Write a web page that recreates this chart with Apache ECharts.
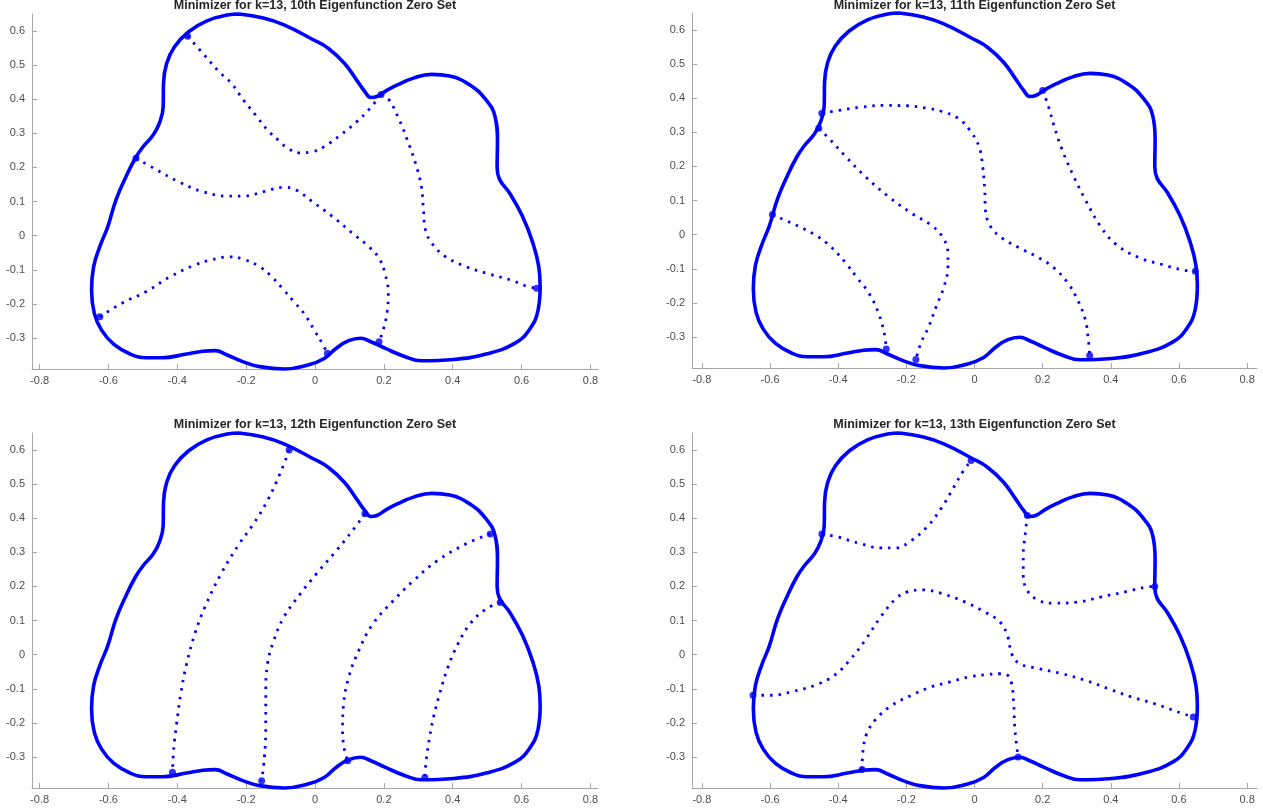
<!DOCTYPE html>
<html>
<head>
<meta charset="utf-8">
<script src="https://cdn.jsdelivr.net/npm/echarts@6/dist/echarts.min.js"></script>
<style>
  html, body { margin: 0; padding: 0; background: #fff; }
  #chart { width: 1263px; height: 811px; }
</style>
</head>
<body>
<div id="chart"></div>
<script>
const xTicks = [-0.8, -0.6, -0.4, -0.2, 0, 0.2, 0.4, 0.6, 0.8];
const yTicks = [-0.3, -0.2, -0.1, 0, 0.1, 0.2, 0.3, 0.4, 0.5, 0.6];
const titles = [
  'Minimizer for k=13, 10th Eigenfunction Zero Set',
  'Minimizer for k=13, 11th Eigenfunction Zero Set',
  'Minimizer for k=13, 12th Eigenfunction Zero Set',
  'Minimizer for k=13, 13th Eigenfunction Zero Set'
];

// domain boundary (same in all panels)
const boundary = [
  [-0.22, 0.65], [-0.15, 0.638], [-0.09, 0.618], [-0.008, 0.576], [0.039, 0.549], [0.086, 0.505], [0.121, 0.456],
  [0.145, 0.422], [0.162, 0.405], [0.18, 0.408], [0.205, 0.424], [0.239, 0.442], [0.286, 0.462], [0.339, 0.473],
  [0.391, 0.468], [0.45, 0.442], [0.497, 0.398], [0.523, 0.349], [0.53, 0.28], [0.529, 0.2],
  [0.536, 0.165], [0.565, 0.125], [0.603, 0.056], [0.633, -0.022], [0.65, -0.091], [0.654, -0.15],
  [0.648, -0.218], [0.623, -0.275], [0.58, -0.316], [0.497, -0.347], [0.403, -0.363], [0.309, -0.367],
  [0.262, -0.355], [0.203, -0.33], [0.162, -0.311], [0.133, -0.301], [0.098, -0.308], [0.062, -0.33],
  [0.027, -0.36], [-0.02, -0.379], [-0.09, -0.391], [-0.161, -0.384], [-0.208, -0.37], [-0.255, -0.35],
  [-0.29, -0.337], [-0.326, -0.339], [-0.373, -0.347], [-0.443, -0.358], [-0.49, -0.358], [-0.537, -0.347],
  [-0.584, -0.319], [-0.62, -0.277], [-0.641, -0.228], [-0.649, -0.159], [-0.643, -0.091], [-0.625, -0.032],
  [-0.602, 0.026], [-0.578, 0.105], [-0.549, 0.173], [-0.522, 0.227], [-0.5, 0.26], [-0.47, 0.295],
  [-0.452, 0.33], [-0.441, 0.378], [-0.44, 0.447], [-0.431, 0.505], [-0.408, 0.554], [-0.367, 0.598],
  [-0.314, 0.63], [-0.255, 0.647], [-0.22, 0.65]
];

// 10th eigenfunction nodal lines
const k10a = [[-0.37, 0.585], [-0.326, 0.535], [-0.279, 0.481], [-0.243, 0.447], [-0.208, 0.398], [-0.173, 0.354],
  [-0.138, 0.31], [-0.102, 0.276], [-0.079, 0.256], [-0.043, 0.243], [-0.008, 0.246], [0.027, 0.261],
  [0.074, 0.295], [0.121, 0.334], [0.156, 0.369], [0.192, 0.414]];
const k10b = [[0.192, 0.414], [0.215, 0.398], [0.245, 0.339], [0.268, 0.281], [0.292, 0.212], [0.309, 0.144],
  [0.315, 0.075], [0.321, 0.017], [0.339, -0.022], [0.38, -0.062], [0.439, -0.091], [0.497, -0.11],
  [0.568, -0.13], [0.615, -0.148], [0.644, -0.154]];
const k10c = [[-0.52, 0.227], [-0.467, 0.197], [-0.396, 0.158], [-0.326, 0.129], [-0.255, 0.116], [-0.208, 0.116],
  [-0.149, 0.129], [-0.091, 0.142], [-0.055, 0.134], [-0.008, 0.1], [0.051, 0.056], [0.109, 0.007],
  [0.156, -0.032], [0.186, -0.066], [0.203, -0.11], [0.213, -0.169], [0.209, -0.228], [0.198, -0.277], [0.186, -0.311]];
const k10d = [[-0.625, -0.238], [-0.561, -0.198], [-0.49, -0.164], [-0.42, -0.12], [-0.349, -0.086], [-0.302, -0.071],
  [-0.249, -0.062], [-0.208, -0.069], [-0.161, -0.091], [-0.126, -0.12], [-0.091, -0.159], [-0.061, -0.194],
  [-0.032, -0.228], [-0.002, -0.277], [0.021, -0.316], [0.036, -0.345]];
const k10nodes = [[-0.37, 0.585], [0.192, 0.414], [-0.52, 0.227], [0.644, -0.154], [-0.625, -0.238], [0.036, -0.345], [0.186, -0.311]];

// 11th
const k11a = [[-0.448, 0.356], [-0.4, 0.364], [-0.333, 0.374], [-0.265, 0.379], [-0.197, 0.378], [-0.14, 0.371],
  [-0.095, 0.361], [-0.049, 0.342], [-0.015, 0.308], [0.013, 0.259], [0.024, 0.2], [0.03, 0.132], [0.032, 0.073],
  [0.047, 0.024], [0.081, -0.01], [0.132, -0.039], [0.189, -0.068], [0.234, -0.098], [0.274, -0.142],
  [0.302, -0.19], [0.325, -0.249], [0.334, -0.308], [0.338, -0.354]];
const k11b = [[0.2, 0.423], [0.217, 0.376], [0.234, 0.317], [0.257, 0.249], [0.291, 0.171], [0.325, 0.103],
  [0.37, 0.024], [0.416, -0.029], [0.484, -0.068], [0.552, -0.088], [0.608, -0.103], [0.648, -0.107]];
const k11c = [[-0.457, 0.312], [-0.423, 0.278], [-0.378, 0.229], [-0.321, 0.171], [-0.253, 0.112], [-0.185, 0.063],
  [-0.129, 0.029], [-0.095, -0.005], [-0.078, -0.054], [-0.078, -0.093], [-0.089, -0.151], [-0.112, -0.21],
  [-0.134, -0.269], [-0.157, -0.317], [-0.172, -0.366]];
const k11d = [[-0.593, 0.059], [-0.537, 0.034], [-0.469, 0], [-0.423, -0.034], [-0.378, -0.083], [-0.344, -0.127],
  [-0.31, -0.171], [-0.282, -0.229], [-0.265, -0.288], [-0.259, -0.335]];
const k11nodes = [[-0.448, 0.356], [-0.457, 0.312], [0.2, 0.423], [0.648, -0.107], [-0.593, 0.059], [-0.259, -0.335], [-0.172, -0.366], [0.338, -0.354]];

// 12th
const k12a = [[-0.075, 0.6], [-0.102, 0.53], [-0.138, 0.452], [-0.179, 0.383], [-0.22, 0.325], [-0.273, 0.237],
  [-0.32, 0.139], [-0.349, 0.061], [-0.373, -0.027], [-0.39, -0.115], [-0.402, -0.203], [-0.41, -0.272], [-0.414, -0.345]];
const k12b = [[0.145, 0.413], [0.109, 0.364], [0.062, 0.305], [0.004, 0.237], [-0.043, 0.178], [-0.091, 0.109],
  [-0.12, 0.041], [-0.138, -0.027], [-0.143, -0.115], [-0.143, -0.213], [-0.147, -0.301], [-0.155, -0.37]];
const k12c = [[0.509, 0.354], [0.439, 0.325], [0.356, 0.276], [0.286, 0.217], [0.227, 0.158], [0.168, 0.09],
  [0.127, 0.012], [0.098, -0.066], [0.083, -0.145], [0.08, -0.223], [0.086, -0.282], [0.095, -0.311]];
const k12d = [[0.538, 0.153], [0.497, 0.134], [0.45, 0.09], [0.415, 0.031], [0.386, -0.037], [0.362, -0.115],
  [0.344, -0.184], [0.333, -0.242], [0.323, -0.311], [0.319, -0.36]];
const k12nodes = [[-0.075, 0.6], [0.145, 0.413], [0.509, 0.354], [0.538, 0.153], [-0.414, -0.345], [-0.155, -0.37], [0.095, -0.311], [0.319, -0.36]];

// 13th
const k13a = [[-0.448, 0.354], [-0.401, 0.345], [-0.333, 0.325], [-0.276, 0.313], [-0.231, 0.313], [-0.185, 0.335],
  [-0.14, 0.374], [-0.095, 0.433], [-0.061, 0.491], [-0.032, 0.54], [-0.01, 0.569]];
const k13b = [[0.155, 0.408], [0.149, 0.354], [0.143, 0.296], [0.143, 0.237], [0.155, 0.188], [0.189, 0.159],
  [0.234, 0.151], [0.302, 0.154], [0.37, 0.169], [0.45, 0.186], [0.501, 0.198], [0.529, 0.2]];
const k13c = [[-0.65, -0.119], [-0.594, -0.119], [-0.537, -0.109], [-0.469, -0.09], [-0.412, -0.061], [-0.367, -0.017],
  [-0.321, 0.042], [-0.276, 0.11], [-0.231, 0.164], [-0.197, 0.184], [-0.151, 0.19], [-0.095, 0.179],
  [-0.027, 0.154], [0.03, 0.125], [0.075, 0.096], [0.098, 0.052], [0.109, 0.003], [0.132, -0.026],
  [0.189, -0.041], [0.257, -0.056], [0.325, -0.075], [0.393, -0.1], [0.461, -0.124], [0.529, -0.144],
  [0.597, -0.168], [0.642, -0.183]];
const k13d = [[-0.33, -0.337], [-0.327, -0.28], [-0.316, -0.231], [-0.288, -0.188], [-0.242, -0.148], [-0.185, -0.119],
  [-0.129, -0.095], [-0.072, -0.08], [-0.015, -0.065], [0.03, -0.059], [0.075, -0.056], [0.098, -0.061],
  [0.109, -0.085], [0.115, -0.144], [0.118, -0.212], [0.123, -0.261], [0.128, -0.3]];
const k13nodes = [[-0.01, 0.569], [0.155, 0.408], [-0.448, 0.354], [0.529, 0.2], [-0.65, -0.119], [0.642, -0.183], [-0.33, -0.337], [0.128, -0.3]];

const panels = [
  { lines: [k10a, k10b, k10c, k10d], nodes: k10nodes },
  { lines: [k11a, k11b, k11c, k11d], nodes: k11nodes },
  { lines: [k12a, k12b, k12c, k12d], nodes: k12nodes },
  { lines: [k13a, k13b, k13c, k13d], nodes: k13nodes }
];

const BLUE = '#0000ff';
const AXIS = '#a6a6a6';
const FONT = '"Liberation Sans", Arial, sans-serif';

const grids = [
  { left: 32, top: 14, width: 566, height: 355 },
  { left: 692, top: 13, width: 565, height: 355 },
  { left: 32, top: 433, width: 566, height: 355 },
  { left: 692, top: 433, width: 565, height: 355 }
];
const xHalf = [0.822, 0.829, 0.822, 0.829];

const chart = echarts.init(document.getElementById('chart'), null, { renderer: 'canvas' });

let xAxes = [], yAxes = [], series = [], titleList = [];
grids.forEach((g, i) => {
  xAxes.push({
    type: 'value', gridIndex: i, min: -xHalf[i], max: xHalf[i],
    axisLine: { onZero: false, lineStyle: { color: AXIS, width: 1 } },
    axisTick: { inside: true, length: 5, customValues: xTicks, lineStyle: { color: AXIS } },
    axisLabel: { customValues: xTicks, color: '#4d4d4d', fontSize: 11, fontFamily: FONT, margin: 6 },
    splitLine: { show: false }
  });
  yAxes.push({
    type: 'value', gridIndex: i, min: -0.391, max: 0.65,
    axisLine: { show: true, onZero: false, lineStyle: { color: AXIS, width: 1 } },
    axisTick: { show: true, inside: true, length: 5, customValues: yTicks, lineStyle: { color: AXIS } },
    axisLabel: { customValues: yTicks, color: '#4d4d4d', fontSize: 11, fontFamily: FONT, margin: 7 },
    splitLine: { show: false }
  });
  titleList.push({
    text: titles[i], left: g.left + g.width / 2, top: i < 2 ? -1 : 418, textAlign: 'center', padding: 0,
    textStyle: { fontSize: 12.5, fontWeight: 'bold', color: '#262626', fontFamily: FONT }
  });
  series.push({
    type: 'line', xAxisIndex: i, yAxisIndex: i, data: boundary, smooth: 0.45, symbol: 'none', clip: false,
    lineStyle: { color: BLUE, width: 3.6 }
  });
  panels[i].lines.forEach((ln) => {
    series.push({
      type: 'line', xAxisIndex: i, yAxisIndex: i, data: ln, smooth: 0.4, symbol: 'none', clip: false,
      lineStyle: { color: BLUE, width: 2.8, type: [2.5, 6] }
    });
  });
  series.push({
    type: 'scatter', xAxisIndex: i, yAxisIndex: i, data: panels[i].nodes, symbol: 'circle', symbolSize: 7,
    itemStyle: { color: BLUE }, clip: false
  });
});

chart.setOption({
  backgroundColor: '#ffffff',
  animation: false,
  title: titleList,
  grid: grids,
  xAxis: xAxes,
  yAxis: yAxes,
  series: series
});
</script>
</body>
</html>
